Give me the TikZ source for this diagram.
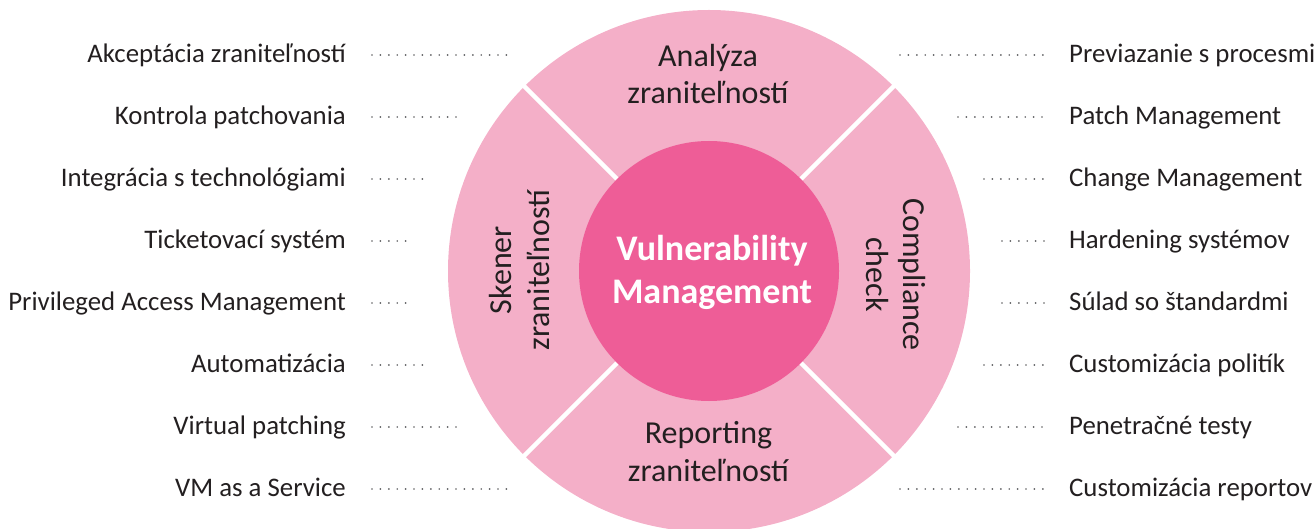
\documentclass[tikz,border=0pt]{standalone}
\usepackage{fontspec}
\setmainfont{Carlito}
\definecolor{outerpink}{HTML}{F4AFC8}
\definecolor{innerpink}{HTML}{EE5D97}
\definecolor{txt}{HTML}{231F20}
\definecolor{dotc}{HTML}{5F6062}
\begin{document}
\begin{tikzpicture}[x=1pt,y=-1pt,
  lbl/.style={font=\fontsize{26.8}{31}\selectfont, text=txt, inner sep=0pt},
  sect/.style={font=\fontsize{32}{37.5}\selectfont, text=txt, align=center, inner sep=0pt},
  coretext/.style={font=\fontsize{36}{43}\selectfont\bfseries, text=white, align=center, inner sep=0pt},
  hubdisc/.style={circle, fill=innerpink, minimum size=260pt, inner sep=0pt},
  leader/.style={dotc, line width=1.9pt, line cap=round, dash pattern=on 0pt off 8.4pt},
  gap/.style={white, line width=4.5pt}]
\useasboundingbox (0,0) rectangle (1314,529);
\clip (0,0) rectangle (1314,529);
\coordinate (c) at (709,271);
\fill[outerpink] (c) circle[radius=261];
\foreach \a in {45,135,225,315} \draw[gap] (c) -- ++(\a:275);
\node[hubdisc] (hub) at (c) {};
\node[coretext, anchor=base] (hubtext) at (712,303) {Vulnerability\\Management};
\node[sect, anchor=base] (ana) at (708,104) {Analýza\\zraniteľností};
\node[sect, anchor=base] (rep) at (708.5,481) {Reporting\\zraniteľností};
\node[sect, rotate=90, anchor=base] (sken) at (549,270) {Skener\\zraniteľností};
\node[sect, rotate=-90, anchor=base] (comp) at (866,274.5) {Compliance\\check};
\foreach \t/\e [count=\i] in {Akceptácia zraniteľností/513, Kontrola patchovania/462, Integrácia s technológiami/430, Ticketovací systém/410, Privileged Access Management/410, Automatizácia/430, Virtual patching/462, VM as a Service/513}{
  \pgfmathsetmacro\yb{62.5+62*(\i-1)}
  \node[lbl, anchor=base east] (L\i) at (346,\yb) {\t};
  \coordinate (le\i) at (\e,\yb-7.5);
  \draw[leader] ([xshift=26pt,yshift=7.5pt]L\i.base east) -- (le\i);
}
\foreach \t/\s [count=\i] in {Previazanie s procesmi/900, Patch Management/958, Change Management/984, Hardening systémov/1002, Súlad so štandardmi/1002, Customizácia politík/984, Penetračné testy/958, Customizácia reportov/900}{
  \pgfmathsetmacro\yb{62.5+62*(\i-1)}
  \node[lbl, anchor=base west] (R\i) at (1069,\yb) {\t};
  \coordinate (rs\i) at (\s,\yb-7.5);
  \draw[leader] (rs\i) -- ([xshift=-24pt,yshift=7.5pt]R\i.base west);
}
\end{tikzpicture}
\end{document}
